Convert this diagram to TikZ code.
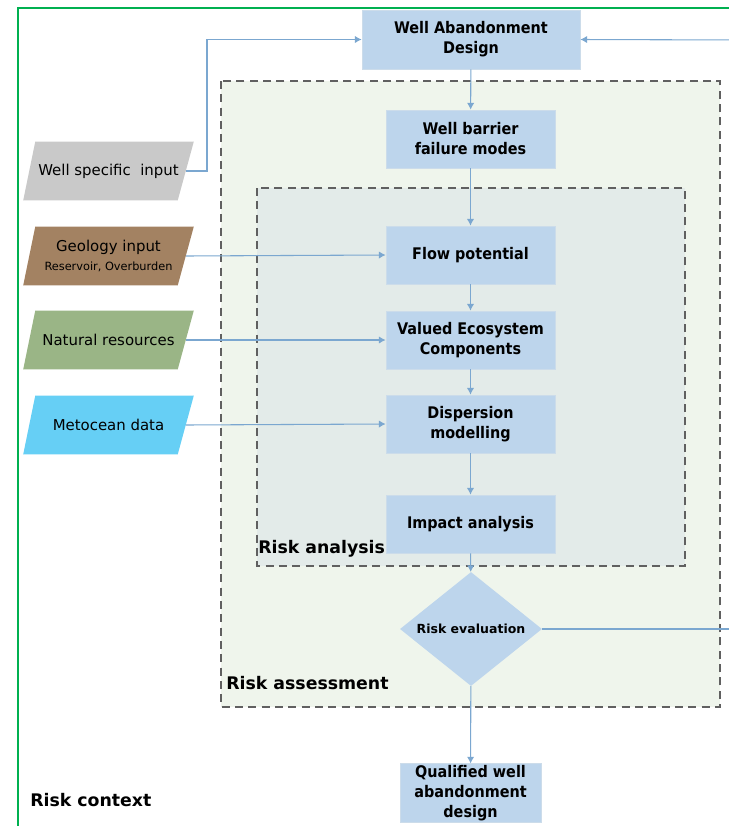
\documentclass[tikz,border=0pt]{standalone}
\usepackage{fontspec}
\setmainfont{DejaVu Sans}
\newfontfamily\condfont{DejaVu Sans Condensed}
\usetikzlibrary{shapes.geometric,arrows.meta}
\definecolor{boxblue}{HTML}{BDD5EC}
\definecolor{boxedge}{HTML}{CCDCEA}
\definecolor{outerfill}{HTML}{EFF5EC}
\definecolor{innerfill}{HTML}{E3EBE9}
\definecolor{linkblue}{HTML}{7BA7D0}
\definecolor{framegreen}{HTML}{00B050}
\definecolor{dashgray}{HTML}{606060}
\definecolor{wellgray}{HTML}{C9C9C9}
\definecolor{geobrown}{HTML}{A38262}
\definecolor{natgreen}{HTML}{9AB586}
\definecolor{metblue}{HTML}{66CFF5}
\tikzset{
  stepbox/.style={rectangle, fill=boxblue, draw=boxedge, line width=0.6pt,
    minimum width=126.75pt, minimum height=43.5pt, inner sep=1pt, align=center,
    font=\condfont\bfseries\fontsize{12}{15}\selectfont},
  inbox/.style={rectangle, minimum width=127.5pt, minimum height=43.5pt,
    inner sep=0pt, align=center, font=\fontsize{11.2}{13}\selectfont},
  link/.style={draw=linkblue, line width=0.8pt},
  arr/.style={link, -{Latex[length=5pt,width=5.5pt]}},
  zone/.style={draw=dashgray, line width=0.8pt, dash pattern=on 6pt off 4pt},
  zonelabel/.style={font=\bfseries\fontsize{13}{15}\selectfont, inner sep=0pt, anchor=base west}
}
\newcommand{\paraback}[2]{%
  \fill[#2] ([xshift=9pt]#1.north west) -- (#1.north east) -- ([xshift=-12pt]#1.south east) -- (#1.south west) -- cycle;}
\begin{document}
\begin{tikzpicture}[x=0.75pt,y=-0.75pt]
\useasboundingbox (0,0) rectangle (729,826);
% frame
\draw[framegreen, line width=1.2pt] (18,840) -- (18,8) -- (745,8);
% zones
\draw[zone, fill=outerfill] (221,81) rectangle (720,707);
\draw[zone, fill=innerfill] (257,188) rectangle (685,566);
% inputs (shapes behind text)
\path (108.5,171) node[inbox] (wsi) {}
      (108.5,256) node[inbox] (geo) {}
      (108.5,340) node[inbox] (nat) {}
      (108.5,425) node[inbox] (met) {};
\paraback{wsi}{wellgray}
\paraback{geo}{geobrown}
\paraback{nat}{natgreen}
\paraback{met}{metblue}
\node[inbox] (wsit) at (wsi) {Well specific\ \ input};
\node[inbox] (geot) at (geo) {Geology input\\[1pt]{\fontsize{8.5}{10}\selectfont Reservoir, Overburden}};
\node[inbox] (natt) at (nat) {Natural resources};
\node[inbox] (mett) at (met) {Metocean data};
% boxes
\node[stepbox, minimum width=163.5pt, minimum height=44.25pt] (wad) at (471,39.5) {Well Abandonment\\Design};
\node[stepbox] (wbfm) at (470.5,139) {Well barrier\\failure modes};
\node[stepbox] (fp) at (470.5,255) {Flow potential};
\node[stepbox] (vec) at (470.5,340) {Valued Ecosystem\\Components};
\node[stepbox] (dm) at (470.5,424) {Dispersion\\modelling};
\node[stepbox] (ia) at (470.5,524) {Impact analysis};
\node[diamond, fill=boxblue, minimum width=106.5pt, minimum height=85.5pt, aspect=1.25, inner sep=0pt,
  font=\bfseries\fontsize{9.4}{11}\selectfont] (re) at (471,629) {Risk evaluation};
\node[stepbox, minimum width=105.75pt] (qwad) at (470.5,793) {Qualified well\\abandonment\\design};
% labels
\node[zonelabel] (lra) at (258,553) {Risk analysis};
\node[zonelabel] (lras) at (226,689) {Risk assessment};
\node[zonelabel] (lrc) at (30,806) {Risk context};
% free ends
\coordinate (rin) at (745,40);
\coordinate (rout) at (745,629);
% connectors
\draw[arr] (wad) -- (wbfm);
\draw[arr] (wbfm) -- (fp);
\draw[arr] (fp) -- (vec);
\draw[arr] (vec) -- (dm);
\draw[arr] (dm) -- (ia);
\draw[arr] (ia) -- (re);
\draw[arr] (re) -- (qwad);
\draw[arr] ([xshift=-6pt]wsi.east) -- (207,171) |- (wad.west);
\draw[arr] (rin) -- (wad.east);
\draw[link] (re.east) -- (rout);
\draw[arr] ([xshift=-6pt]geo.east) -- (fp.west);
\draw[arr] ([xshift=-6pt]nat.east) -- (vec.west);
\draw[arr] ([xshift=-6pt]met.east) -- (dm.west);
\end{tikzpicture}
\end{document}
